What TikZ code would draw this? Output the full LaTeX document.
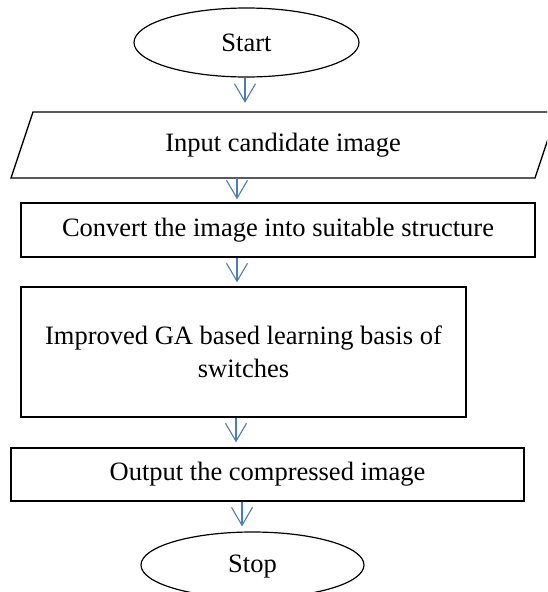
\documentclass[tikz,border=0pt]{standalone}
\usepackage{fontspec}
\setmainfont{Liberation Serif}
\usetikzlibrary{shapes.geometric,arrows.meta}
\definecolor{arrblue}{RGB}{74,126,187}
\tikzset{
  box/.style={draw=black, line width=1.3pt, rectangle, inner sep=0pt, align=center},
  oval/.style={draw=black, line width=1.2pt, ellipse, inner sep=0pt},
  arr/.style={draw=arrblue, line width=1.1pt, -{Straight Barb[length=18pt,width=21pt]}},
}
\begin{document}
\begin{tikzpicture}[x=1pt,y=-1pt]
\useasboundingbox (0,0) rectangle (547,592);
\clip (0,0) rectangle (547,592);
\fontsize{26.5}{33}\selectfont
% nodes
\node[oval, minimum width=225pt, minimum height=69pt] (start) at (246.5,42.5) {Start};
\draw[line width=1.3pt] (11,178) -- (33,112) -- (557,112) -- (535,178) -- cycle;
\node[rectangle, inner sep=0pt, minimum width=524pt, minimum height=66pt] (inp) at (283,145) {Input candidate image};
\node[box, minimum width=514pt, minimum height=54pt] (conv) at (278,230) {Convert the image into suitable structure};
\node[box, minimum width=445pt, minimum height=130pt] (ga) at (243.5,352) {Improved GA based learning basis of\\switches};
\node[box, minimum width=513pt, minimum height=53pt] (out) at (267.5,474.5) {Output the compressed image};
\node[oval, minimum width=223pt, minimum height=66pt, text depth=3pt] (stop) at (252.5,565) {Stop};
% arrow columns
\coordinate (x1) at (245,0);
\coordinate (x2) at (237,0);
\coordinate (x3) at (237,0);
\coordinate (x4) at (236,0);
\coordinate (x5) at (242,0);
% connectors
\draw[arr, shorten >=9pt] (start.south -| x1) -- (inp.north -| x1);
\draw[arr, shorten >=3pt] (inp.south -| x2) -- (conv.north -| x2);
\draw[arr, shorten >=4pt] (conv.south -| x3) -- (ga.north -| x3);
\draw[arr, shorten >=5pt] (ga.south -| x4) -- (out.north -| x4);
\draw[arr, shorten >=5pt] (out.south -| x5) -- (stop.north -| x5);
\end{tikzpicture}
\end{document}
